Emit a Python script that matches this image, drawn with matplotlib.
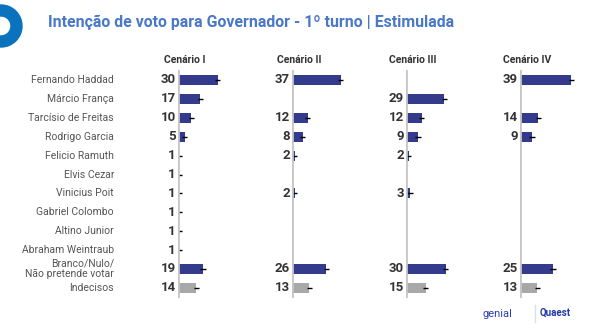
import numpy as np
import matplotlib
matplotlib.use("Agg")
import matplotlib.pyplot as plt
from matplotlib.patches import Wedge
from matplotlib.transforms import blended_transform_factory

plt.rcParams['font.family'] = ['Roboto', 'DejaVu Sans']

nan = np.nan
candidates = ["Fernando Haddad", "Márcio França", "Tarcísio de Freitas", "Rodrigo Garcia",
              "Felicio Ramuth", "Elvis Cezar", "Vinicius Poit", "Gabriel Colombo",
              "Altino Junior", "Abraham Weintraub", "Branco/Nulo/\nNão pretende votar", "Indecisos"]
scenarios = ["Cenário I", "Cenário II", "Cenário III", "Cenário IV"]
cen1 = [30, 17, 10, 5, 1, 1, 1, 1, 1, 1, 19, 14]
cen2 = [37, nan, 12, 8, 2, nan, 2, nan, nan, nan, 26, 13]
cen3 = [nan, 29, 12, 9, 2, nan, 3, nan, nan, nan, 30, 15]
cen4 = [39, nan, 14, 9, nan, nan, nan, nan, nan, nan, 25, 13]
series = [cen1, cen2, cen3, cen4]
margin = 2

W, H = 597, 335
fig = plt.figure(figsize=(W / 100, H / 100), dpi=100)

NAVY = "#343a8c"
GREY = "#a8a8a8"
TXT = "#333333"

axis_x = [178, 292, 406, 520]
scale = 1.32  # px per unit
xmax = 45
top_px, bot_px = 70, 298
row0, step = 80, 18.9
ylo = (top_px - row0) / step
yhi = (bot_px - row0) / step
ypos = np.arange(len(candidates))
colors = [NAVY] * 11 + [GREY]

axes = []
for k, (x0, vals, name) in enumerate(zip(axis_x, series, scenarios)):
    ax = fig.add_axes([x0 / W, 1 - bot_px / H, xmax * scale / W, (bot_px - top_px) / H])
    ax.set_xlim(0, xmax)
    ax.set_ylim(yhi, ylo)
    ax.axis('off')
    v = np.array(vals, dtype=float)
    ax.barh(ypos, np.nan_to_num(v), height=0.52, color=colors, zorder=2)
    m = ~np.isnan(v)
    ax.errorbar(v[m], ypos[m], xerr=margin, fmt='none', ecolor='black', elinewidth=1.0, capsize=0, zorder=3)
    ax.axvline(0, color="#c6c6c6", lw=2, zorder=4)
    for yi, val in zip(ypos, v):
        if not np.isnan(val):
            ax.text(-1.6, yi, f"{int(val)}", ha='right', va='center', fontsize=9.5,
                    fontweight='bold', color=TXT)
    fig.text((x0 + 7) / W, 1 - 60 / H, name, ha='center', va='center', fontsize=7.5,
             fontweight='bold', color=TXT)
    axes.append(ax)

trans = blended_transform_factory(fig.transFigure, axes[0].transData)
for yi, lab in zip(ypos, candidates):
    axes[0].text(114 / W, yi, lab, ha='right', va='center', fontsize=7.5, color="#555555",
                 transform=trans, linespacing=1.0)

fig.text(48 / W, 1 - 22 / H, "Intenção de voto para Governador - 1º turno | Estimulada",
         ha='left', va='center', fontsize=11.4, fontweight='bold', color="#4a78c8")

over = fig.add_axes([0, 0, 1, 1], zorder=-1)
over.set_xlim(0, W)
over.set_ylim(H, 0)
over.axis('off')
over.add_patch(Wedge((1, 26), 21, 0, 360, width=11, color="#0b72bd"))
over.text(497, 314, "genial", fontsize=8, color="#2b3fb5", ha='center', va='center')
over.text(555, 313, "Quaest", fontsize=7, color="#1f3aa8", ha='center', va='center', fontweight='bold')
over.plot([535, 535], [305, 322], color="#cfe3f5", lw=1)

fig.savefig("out.png", dpi=100)
